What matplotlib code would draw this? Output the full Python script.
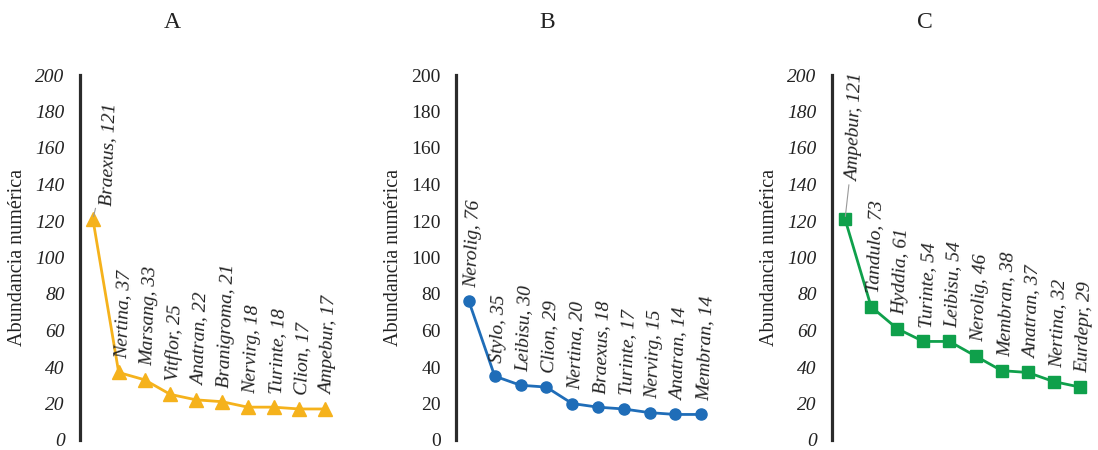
import matplotlib.pyplot as plt

plt.rcParams['font.family'] = ['Liberation Serif', 'DejaVu Serif']

# Datos de los tres paneles
names_a = ['Braexus', 'Nertina', 'Marsang', 'Vitflor', 'Anatran', 'Branigroma',
           'Nervirg', 'Turinte', 'Clion', 'Ampebur']
values_a = [121, 37, 33, 25, 22, 21, 18, 18, 17, 17]

names_b = ['Nerolig', 'Stylo', 'Leibisu', 'Clion', 'Nertina', 'Braexus',
           'Turinte', 'Nervirg', 'Anatran', 'Membran']
values_b = [76, 35, 30, 29, 20, 18, 17, 15, 14, 14]

names_c = ['Ampebur', 'Tandulo', 'Hyddia', 'Turinte', 'Leibisu', 'Nerolig',
           'Membran', 'Anatran', 'Nertina', 'Eurdepr']
values_c = [121, 73, 61, 54, 54, 46, 38, 37, 32, 29]

panels = [
    ('A', names_a, values_a, '#F5B21C', '^', 'italic', 80, 258, 172, (10, 10)),
    ('B', names_b, values_b, '#1F6DB8', 'o', 'normal', 456, 258, 547, None),
    ('C', names_c, values_c, '#0FA04B', 's', 'italic', 832, 261, 925, (6, 27)),
]

W, H = 1098, 450
fig = plt.figure(figsize=(W / 100, H / 100), dpi=100)

y_top, y_bot = 75, 440
txt = '#222222'

for letter, names, values, color, marker, tstyle, x0, width, tx, first_off in panels:
    ax = fig.add_axes([x0 / W, 1 - y_bot / H, width / W, (y_bot - y_top) / H])
    xs = list(range(len(values)))
    ax.plot(xs, values, color=color, marker=marker,
            markersize={'^': 9.5, 'o': 8, 's': 8}[marker],
            linewidth=2, clip_on=False)
    ax.set_xlim(-0.5, len(values) - 0.5)
    ax.set_ylim(0, 200)
    ax.set_yticks(range(0, 201, 20))
    for lab in ax.get_yticklabels():
        lab.set_fontstyle(tstyle)
    ax.tick_params(axis='y', length=0, pad=11, labelsize=14, labelcolor=txt)
    ax.set_xticks([])
    for s in ['top', 'right', 'bottom']:
        ax.spines[s].set_visible(False)
    ax.spines['left'].set_linewidth(2.3)
    ax.spines['left'].set_color('#2b2b2b')
    ax.set_ylabel('Abundancia numérica', fontsize=14.5, color=txt)
    ax.yaxis.set_label_coords(-53 / width, 0.5)

    for i, (n, v) in enumerate(zip(names, values)):
        if i == 0 and first_off is not None:
            ax.annotate(f'{n}, {v}', xy=(i, v), xytext=first_off, textcoords='offset points',
                        rotation=88, rotation_mode='anchor', ha='left', va='center',
                        fontsize=14, fontstyle='italic', color=txt,
                        arrowprops=dict(arrowstyle='-', color='#999999', lw=0.8,
                                        shrinkA=0, shrinkB=2))
        else:
            ax.annotate(f'{n}, {v}', xy=(i, v), xytext=(2, 10), textcoords='offset points',
                        rotation=88, rotation_mode='anchor', ha='left', va='center',
                        fontsize=14, fontstyle='italic', color=txt)

    fig.text(tx / W, 1 - 22 / H, letter, ha='center', va='center', fontsize=17, color=txt)

fig.savefig('out.png', dpi=100)
